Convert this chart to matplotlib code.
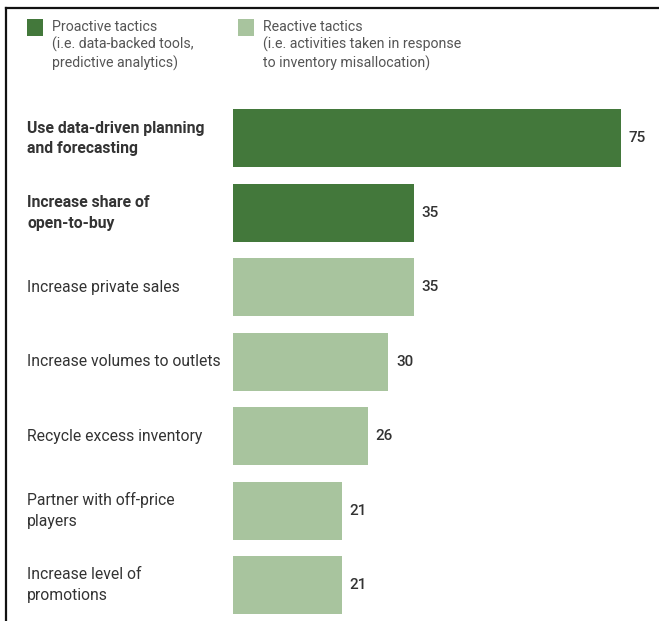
import matplotlib.pyplot as plt
import matplotlib.transforms as mtransforms
from matplotlib.patches import Rectangle
from matplotlib.lines import Line2D

plt.rcParams['font.family'] = ['Roboto', 'DejaVu Sans']

labels = ['Use data-driven planning\nand forecasting',
          'Increase share of\nopen-to-buy',
          'Increase private sales',
          'Increase volumes to outlets',
          'Recycle excess inventory',
          'Partner with off-price\nplayers',
          'Increase level of\npromotions']
values = [75, 35, 35, 30, 26, 21, 21]
proactive = [True, True, False, False, False, False, False]

dark = '#43783b'
light = '#a8c49e'
text_col = '#333333'

W, H = 659, 621
fig = plt.figure(figsize=(W / 100, H / 100), dpi=100)

# axes placed in pixel terms: value 0 at x=233, 75 at x=621
top_px, bot_px = 101.25, 622.25
ax = fig.add_axes([233 / W, (H - bot_px) / H, (621 - 233) / W, (bot_px - top_px) / H])
ypos = list(range(len(values)))
colors = [dark if p else light for p in proactive]
ax.barh(ypos, values, height=0.78, color=colors)
ax.set_xlim(0, 75)
ax.set_ylim(len(values) - 0.5, -0.5)
ax.axis('off')

# category labels: x in figure coords, y in data coords
trans = mtransforms.blended_transform_factory(fig.transFigure, ax.transData)
for y, v, lab, p in zip(ypos, values, labels, proactive):
    ax.text(v + 1.5, y, str(v), va='center', ha='left', fontsize=11,
            color=text_col, fontweight='medium')
    ax.text(27 / W, y, lab, transform=trans, fontsize=11.3, clip_on=False,
            color=text_col, ha='left', va='center', linespacing=1.45,
            fontweight='bold' if p else 'normal')

# legend
def px(x, y):
    return x / W, 1 - y / H

for x0, col, txt in [(27, dark, 'Proactive tactics\n(i.e. data-backed tools,\npredictive analytics)'),
                     (238, light, 'Reactive tactics\n(i.e. activities taken in response\nto inventory misallocation)')]:
    fx, fy = px(x0, 36)
    fig.patches.append(Rectangle((fx, fy), 16 / W, 17 / H, transform=fig.transFigure,
                                 facecolor=col, edgecolor='none'))
    tx, ty = px(x0 + 25, 20)
    fig.text(tx, ty, txt, ha='left', va='top', fontsize=10.2, color='#555555', linespacing=1.25)

# screenshot border on top and left
fig.add_artist(Line2D([6 / W, 6 / W], [0, 1 - 8 / H], transform=fig.transFigure, color='#111111', lw=1.6))
fig.add_artist(Line2D([6 / W, 1], [1 - 8 / H, 1 - 8 / H], transform=fig.transFigure, color='#111111', lw=1.6))

fig.savefig('out.png', dpi=100, facecolor='white')
